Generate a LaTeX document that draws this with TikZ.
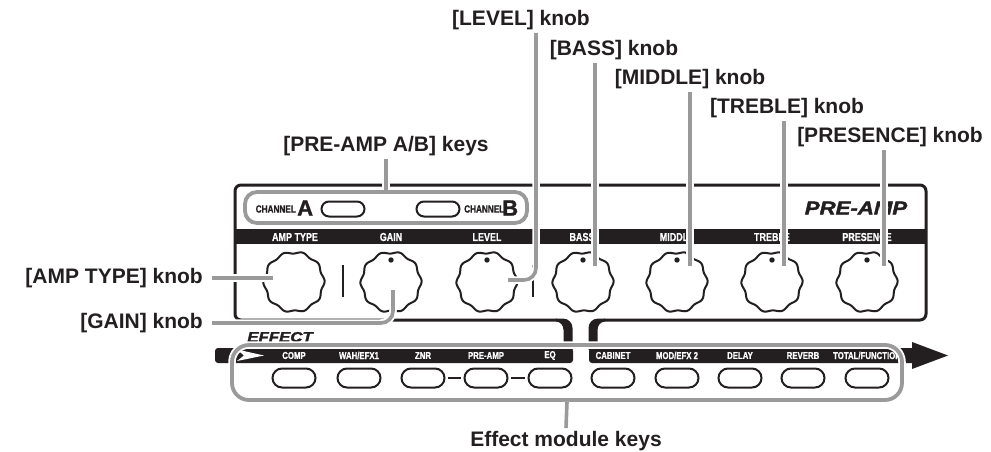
\documentclass[tikz,border=0pt]{standalone}
\usepackage{fontspec}
\setmainfont{Liberation Sans}
\newfontfamily\condf[FakeStretch=0.78,FakeBold=0.8]{Liberation Sans Bold}
\newfontfamily\widef[FakeStretch=1.2,FakeBold=2]{Liberation Sans Bold Italic}
\newfontfamily\heavyf[FakeBold=1.5]{Liberation Sans Bold}
\usetikzlibrary{shapes.misc}
\definecolor{ink}{HTML}{231F20}
\definecolor{ldgray}{HTML}{9A9A9A}
\tikzset{
  lbl/.style={font=\fontsize{21}{24}\selectfont\bfseries, text=ink, inner sep=0pt},
  leader/.style={draw=ldgray, line width=3.6, rounded corners=12, preaction={draw=white, line width=7.5}},
  klbl/.style={font=\condf\fontsize{11.5}{12}\selectfont, text=white, inner sep=0pt},
  eklbl/.style={font=\condf\fontsize{10}{10}\selectfont, text=white, inner sep=0pt},
  chlbl/.style={font=\condf\fontsize{10.5}{11}\selectfont, text=ink, inner sep=0pt},
  bigl/.style={font=\heavyf\fontsize{22}{22}\selectfont, text=ink, inner sep=0pt},
  keybox/.style={draw=ink, line width=2, rounded rectangle, minimum width=43, minimum height=19, inner sep=0pt},
  chkey/.style={draw=ink, line width=2, rounded rectangle, minimum width=43, minimum height=15, inner sep=0pt},
  knob/.style={circle, minimum size=60, inner sep=0pt},
  scal/.style={draw=ink, line width=2},
}
\begin{document}
\begin{tikzpicture}[x=1pt,y=-1pt]
\useasboundingbox (0,0) rectangle (991,452);
\fill[white] (0,0) rectangle (991,452);

% panel outline
\draw[ink, line width=3, rounded corners=6] (557,320) -- (235,320) -- (235,185) -- (926,185) -- (926,320) -- (604,320);
\fill[ink] (556,318.5) -- (563,318.5) to[out=0,in=90] (572.5,328) -- (572.5,350) -- (563.5,350) -- (563.5,330) to[out=90,in=0] (556,321.5) -- cycle;
\fill[ink] (605,318.5) -- (598,318.5) to[out=180,in=90] (588.5,328) -- (588.5,350) -- (597.5,350) -- (597.5,330) to[out=90,in=180] (605,321.5) -- cycle;

% knob name bar
\fill[ink] (235,229) rectangle (926,244);
\foreach \t/\xx in {AMP TYPE/295, GAIN/391, LEVEL/487, BASS/582, MIDDLE/677, TREBLE/772, PRESENCE/867}
  \node[klbl] at (\xx,237) {\t};

% title texts
\node[font=\widef\fontsize{18.5}{20}\selectfont, text=ink, inner sep=0pt] (title) at (856,208) {PRE-AMP};
\node[font=\widef\fontsize{14}{15}\selectfont, text=ink, inner sep=0pt] (efft) at (280,337) {EFFECT};

% channel keys
\node[chlbl, anchor=east] (chA) at (296,209) {CHANNEL};
\node[bigl, anchor=west] (bigA) at (297,208) {A};
\node[chkey] (keyA) at (343,209) {};
\node[chkey] (keyB) at (438,209) {};
\node[chlbl, anchor=west] (chB) at (464,209) {CHANNEL};
\node[bigl, anchor=west] (bigB) at (502,208) {B};

% knobs
\foreach \n/\xx in {kAmp/294, kGain/391, kLvl/487, kBass/583, kMid/677, kTreb/772, kPres/867}{
  \node[knob] (\n) at (\xx,282) {};
  \begin{scope}[shift={(\n.center)}]
    \draw[scal] plot[domain=0:360, samples=121, smooth] ({(29.5+1.1*cos(10*\x+15))*cos(\x)}, {(29.5+1.1*cos(10*\x+15))*sin(\x)}) -- cycle;
  \end{scope}
}
\foreach \n in {kGain, kLvl, kBass, kMid, kTreb, kPres}
  \fill[ink] ([yshift=22pt]\n.center) circle (2.7);

% separators
\draw[ink, line width=2.5] (343,265) -- (343,297);
\draw[ink, line width=2.5] (533,265) -- (533,297);

% effect bar
\fill[ink, rounded corners=3] (215,348) -- (573,348) -- (573,363) -- (215,363) -- cycle;
\fill[white] (237,349.5) -- (264,355.5) -- (237,361) -- (244,355.5) -- cycle;
\fill[ink, rounded corners=3] (913,363) -- (589,363) -- (589,348) -- (913,348);
\fill[ink] (912,348) -- (912,342) -- (948,355.5) -- (912,369) -- (912,363) -- cycle;

\foreach \n/\t/\xx in {eCOMP/COMP/294, eWAH/{WAH/EFX1}/359, eZNR/ZNR/423, ePRE/PRE-AMP/486, eEQ/EQ/550, eCAB/CABINET/613, eMOD/{MOD/EFX 2}/677, eDEL/DELAY/740, eREV/REVERB/803, eTOT/{TOTAL/FUNCTION}/867}{
  \node[eklbl] at (\xx,355.5) {\t};
  \node[keybox] (\n) at (\xx,378) {};
}
\draw[ink, line width=2, shorten <=2.5, shorten >=2.5] (eZNR.east) -- (ePRE.west);
\draw[ink, line width=2, shorten <=2.5, shorten >=2.5] (ePRE.east) -- (eEQ.west);

% gray boxes
\node[draw=ldgray, line width=3.8, rounded corners=12, minimum width=282, minimum height=31, inner sep=0pt, preaction={draw=white, line width=7.5}] (chbox) at (386,207.5) {};
\node[draw=ldgray, line width=3.8, rounded corners=17, minimum width=670, minimum height=55, inner sep=0pt, preaction={draw=white, line width=7.5}] (effbox) at (567,372.5) {};

% labels
\node[lbl] (lvl) at (521,20) {[LEVEL] knob};
\node[lbl] (bass) at (614,50) {[BASS] knob};
\node[lbl] (mid) at (690,79) {[MIDDLE] knob};
\node[lbl] (treb) at (787,108) {[TREBLE] knob};
\node[lbl] (pres) at (890,137) {[PRESENCE] knob};
\node[lbl] (pal) at (386,146) {[PRE-AMP A/B] keys};
\node[lbl, anchor=east] (ampl) at (203,278) {[AMP TYPE] knob};
\node[lbl, anchor=east] (gainl) at (203,323) {[GAIN] knob};
\node[lbl] (effl) at (566,441) {Effect module keys};

% leader end points
\coordinate (pAmp) at (273,278);
\coordinate (pGain) at (393,290);
\coordinate (pLvl) at (508,280);
\coordinate (pBass) at (595,266);
\coordinate (pMid) at (690,266);
\coordinate (pTreb) at (784,266);
\coordinate (pPres) at (884,266);

% leaders
\draw[leader] ([xshift=9pt]ampl.east) -- (pAmp);
\draw[leader] ([xshift=9pt]gainl.east) -| (pGain);
\draw[leader] ([xshift=15pt,yshift=-3pt]lvl.south) |- (pLvl);
\draw[leader] ([yshift=-3pt]bass.south -| pBass) -- (pBass);
\draw[leader] ([yshift=-3pt]mid.south -| pMid) -- (pMid);
\draw[leader] ([yshift=-3pt]treb.south -| pTreb) -- (pTreb);
\draw[leader] ([yshift=-3pt]pres.south -| pPres) -- (pPres);
\draw[leader] ([yshift=-3pt]pal.south) -- (chbox.north);
\draw[leader] (effbox.south) -- ([yshift=3pt]effl.north);
\end{tikzpicture}
\end{document}
